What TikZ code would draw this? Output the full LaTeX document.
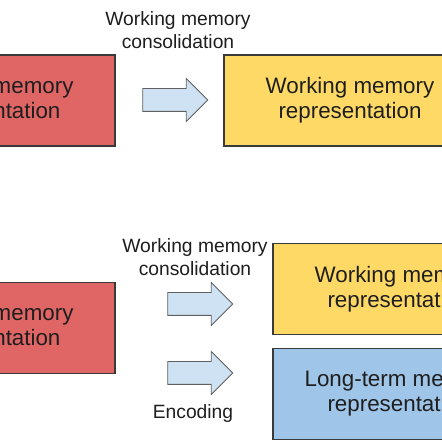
\documentclass[tikz,border=0pt]{standalone}
\usepackage{fontspec}
\setmainfont{Liberation Sans}
\usepackage{tikz}
\usetikzlibrary{positioning, shapes.arrows}
\definecolor{redFill}{RGB}{224,102,102}
\definecolor{yellowFill}{RGB}{255,217,102}
\definecolor{blueFill}{RGB}{159,197,232}
\definecolor{arrowFill}{RGB}{207,226,243}
\definecolor{lineColor}{RGB}{58,58,58}
\definecolor{arrowLine}{RGB}{96,96,96}
\definecolor{textColor}{RGB}{30,30,30}

\tikzset{
    memBox/.style={draw=lineColor, line width=0.8pt, minimum height=2.275cm, inner sep=0pt},
    memText/.style={align=center, text=textColor, font=\fontsize{15.9}{17.8}\selectfont},
    blockArrow/.style={single arrow, draw=arrowLine, fill=arrowFill, line width=0.6pt,
        minimum height=1.625cm, minimum width=1.05cm, inner xsep=0pt, inner ysep=0.275cm,
        single arrow head extend=0.25cm, single arrow tip angle=90},
    stepLabel/.style={align=center, text=textColor, font=\fontsize{13.7}{16.5}\selectfont}
}

\begin{document}
\begin{tikzpicture}
    \useasboundingbox (0,0) rectangle (11.05,11.05);
    \clip (0,0) rectangle (11.05,11.05);

    % top row
    \node[memBox, fill=redFill, minimum width=2.905cm] (sensTop) at (1.4225,8.5375) {};
    \node[memText] (sensTopText) at (-0.275,8.5375) {Sensory memory\\representation};
    \node[memBox, fill=yellowFill, minimum width=5.48cm] (wmTop) at (8.34,8.5375) {};
    \node[memText] (wmTopText) at (8.75,8.5375) {Working memory\\representation};
    \node[blockArrow] (arrTop) at (4.2375,8.55) {};
    \node[stepLabel] (consTop) at (4.45,10.3) {Working memory\\consolidation};

    % bottom row
    \node[memBox, fill=redFill, minimum width=2.905cm] (sensBot) at (1.4225,2.85) {};
    \node[memText] (sensBotText) at (-0.275,2.85) {Sensory memory\\representation};
    \node[memBox, fill=yellowFill, minimum width=4.255cm] (wmBot) at (8.9525,3.825) {};
    \node[memText] (wmBotText) at (9.975,3.825) {Working memory\\representation};
    \node[memBox, fill=blueFill, minimum width=4.255cm] (ltmBot) at (8.9525,1.2) {};
    \node[memText] (ltmBotText) at (9.975,1.2) {Long-term memory\\representation};
    \node[blockArrow] (arrWm) at (4.8625,3.45) {};
    \node[blockArrow] (arrLtm) at (4.8625,1.725) {};
    \node[stepLabel] (consBot) at (4.875,4.625) {Working memory\\consolidation};
    \node[stepLabel] (encBot) at (4.825,0.7) {Encoding};
\end{tikzpicture}
\end{document}
